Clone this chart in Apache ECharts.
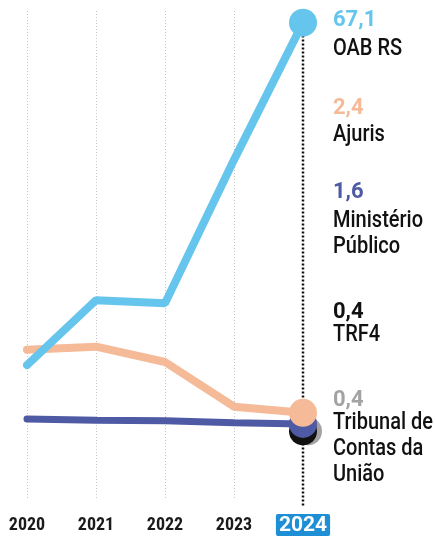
<!DOCTYPE html>
<html>
<head>
<meta charset="utf-8">
<script src="https://cdn.jsdelivr.net/npm/echarts@6/dist/echarts.min.js"></script>
<style>
html,body{margin:0;padding:0;background:#fff;}
#chart{width:435px;height:539px;}
</style>
</head>
<body>
<div id="chart"></div>
<script>
// ---- data ----
const years = ['2020', '2021', '2022', '2023', '2024'];
const oabRS = [11.2, 21.8, 21.3, 44.7, 67.1];
const ajuris = [13.7, 14.2, 11.7, 4.4, 3.4];
const ministerio = [2.4, 2.2, 2.1, 1.8, 1.6];
const trf4 = [null, null, null, null, 0.4];
const tcu = [null, null, null, null, 0.4];
const valueLabels = ['67,1', '2,4', '1,6', '0,4', '0,4'];
const entityNames = ['OAB RS', 'Ajuris', 'Ministério\nPúblico', 'TRF4', 'Tribunal de\nContas da\nUnião'];
const highlightYear = '2024';
const guideRange = [65, -12];

// ---- styles / layout ----
const colors = ['#66C5EC', '#F5BA97', '#4F5AA5', '#111111', '#A3A3A3'];
const labelX = 333;
const valueY = [7, 95, 179, 299, 387];
const nameY = [36, 122, 208, 322, 410];

const chart = echarts.init(document.getElementById('chart'), null, {renderer: 'canvas'});

function endSize(v, p) { return p.dataIndex === years.length - 1 ? 28 : 0; }

function lineSeries(name, data, color, width, extra) {
  return Object.assign({
    name: name,
    type: 'line',
    data: data,
    symbol: 'circle',
    symbolSize: endSize,
    showSymbol: true,
    showAllSymbol: true,
    connectNulls: false,
    silent: true,
    animation: false,
    itemStyle: {color: color},
    lineStyle: {color: color, width: width, cap: 'round', join: 'bevel'}
  }, extra || {});
}

const graphics = [];
for (let i = 0; i < valueLabels.length; i++) {
  graphics.push({
    type: 'text', x: labelX, y: valueY[i], silent: true,
    style: {
      text: valueLabels[i], fill: colors[i], font: 'bold 22px Roboto',
      verticalAlign: 'top', lineHeight: 26
    }
  });
  graphics.push({
    type: 'text', x: labelX, y: nameY[i], scaleX: 0.87, silent: true,
    style: {
      text: entityNames[i], fill: '#111', font: '500 23px Roboto',
      verticalAlign: 'top', lineHeight: 26
    }
  });
}

const option = {
  backgroundColor: '#ffffff',
  animation: false,
  grid: {left: 27, right: 132, top: 11, bottom: 41},
  xAxis: {
    type: 'category',
    data: years,
    boundaryGap: false,
    axisLine: {show: false},
    axisTick: {show: false},
    splitLine: {
      show: true,
      lineStyle: {
        color: ['#c4c4c4', '#c4c4c4', '#c4c4c4', '#c4c4c4', 'rgba(0,0,0,0)'],
        width: 1, type: [1, 2]
      }
    },
    axisLabel: {
      margin: 18,
      formatter: function (v) { return v === highlightYear ? '{hl|' + v + '}' : '{n|' + v + '}'; },
      rich: {
        n: {fontFamily: "'Liberation Sans Narrow', 'Roboto Condensed', Roboto", fontWeight: 'bold', fontSize: 18, color: '#1a1a1a', lineHeight: 18},
        hl: {fontFamily: 'Roboto', fontWeight: 'bold', fontSize: 21, color: '#ffffff', backgroundColor: '#1E8FD5', padding: [1, 3, 0, 3], borderRadius: 2, lineHeight: 18}
      }
    }
  },
  yAxis: {
    type: 'value', min: -10.5, max: 69, show: false,
    splitLine: {show: false}
  },
  series: [
    {
      name: 'guide', type: 'line', silent: true, animation: false, clip: false,
      symbol: 'none',
      data: [[highlightYear, guideRange[0]], [highlightYear, guideRange[1]]],
      lineStyle: {color: '#111', width: 2.5, type: [2, 2], cap: 'butt'}
    },
    lineSeries('Tribunal de Contas da União', tcu, colors[4], 7, {symbolOffset: [5, 0]}),
    lineSeries('TRF4', trf4, colors[3], 7),
    lineSeries('Ministério Público', ministerio, colors[2], 7),
    lineSeries('Ajuris', ajuris, colors[1], 8),
    lineSeries('OAB RS', oabRS, colors[0], 8)
  ],
  graphic: graphics
};
chart.setOption(option);
</script>
</body>
</html>
